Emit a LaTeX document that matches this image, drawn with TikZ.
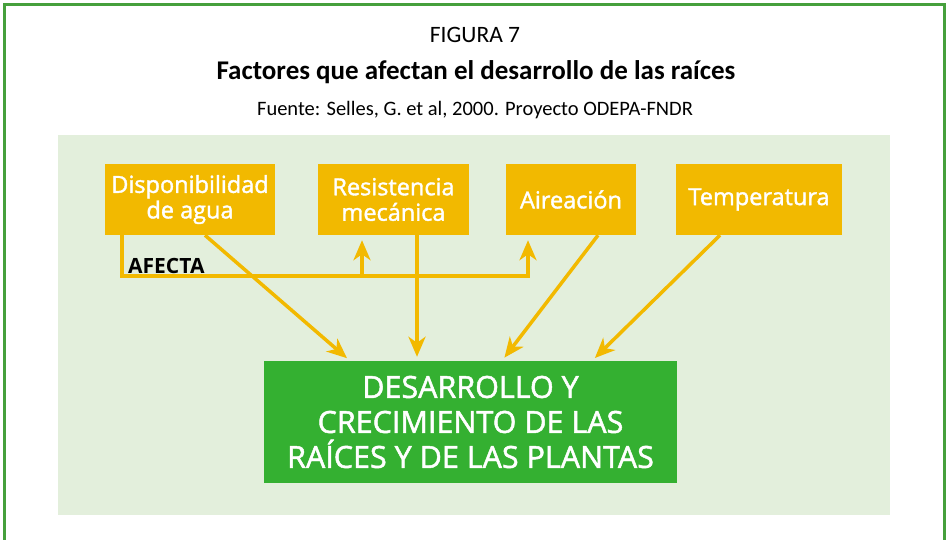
\documentclass[tikz,border=0pt]{standalone}
\usepackage{fontspec}
\setmainfont{Carlito}
\newfontfamily\cajafont[FakeBold=1.6]{Open Sans}
\newfontfamily\negritafont{Open Sans}
\usetikzlibrary{arrows.meta}
\definecolor{marco}{RGB}{70,160,60}
\definecolor{fondo}{RGB}{227,239,220}
\definecolor{naranja}{RGB}{242,185,0}
\definecolor{verde}{RGB}{52,176,49}

\begin{document}
\begin{tikzpicture}[x=1pt, y=-1pt,
    factor/.style={fill=naranja, text=white, font=\cajafont\fontsize{23.5}{25.5}\selectfont,
        align=center, minimum height=71pt, inner sep=0pt},
    resultado/.style={fill=verde, text=white, font=\cajafont\fontsize{30.5}{35}\selectfont,
        align=center, minimum width=413pt, minimum height=122pt, inner sep=0pt},
    flecha/.style={draw=naranja, line width=3.5pt, shorten >=4pt,
        -{Stealth[length=20pt, width=17pt, inset=6pt]}}]
    \useasboundingbox (0,0) rectangle (949,539);
    \draw[marco, line width=3pt] (4.5,560) -- (4.5,4.5) -- (944.5,4.5) -- (944.5,560);
    \fill[fondo] (58,135) rectangle (890,515);

    \node (figura) at (475,35) {\fontsize{23.5}{27}\selectfont FIGURA 7};
    \node (titulo) at (476,72) {\fontsize{27}{30}\selectfont\bfseries Factores que afectan el desarrollo de las raíces};
    \node (fuente) at (475,110) {\fontsize{20.5}{24}\selectfont Fuente: Selles, G. et al, 2000. Proyecto ODEPA-FNDR};

    \node[factor, minimum width=170pt] (agua) at (190,199.5) {Disponibilidad\\de agua};
    \node[factor, minimum width=151pt] (resist) at (393.5,199.5) {Resistencia\\mecánica};
    \node[factor, minimum width=130pt] (aire) at (571,199.5) {Aireación};
    \node[factor, minimum width=166pt] (temp) at (759,199.5) {Temperatura};
    \node[resultado] (planta) at (470.5,422) {DESARROLLO Y\\CRECIMIENTO DE LAS\\RAÍCES Y DE LAS PLANTAS};

    \draw[flecha] ([xshift=15pt]agua.south) -- ([xshift=-120.5pt]planta.north);
    \draw[flecha] ([xshift=23.5pt]resist.south) -- ([xshift=-53.5pt]planta.north);
    \draw[flecha] ([xshift=27pt]aire.south) -- ([xshift=31.5pt]planta.north);
    \draw[flecha] ([xshift=-39pt]temp.south) -- ([xshift=121.5pt]planta.north);

    \coordinate (linea) at (0,276);
    \draw[flecha, shorten >=5pt] ([xshift=-68pt]agua.south) |- ([xshift=-43pt]aire.south |- linea) -- ([xshift=-43pt]aire.south);
    \draw[flecha, shorten >=5pt] ([xshift=-31.5pt]resist.south |- linea) -- ([xshift=-31.5pt]resist.south);
    \node[anchor=south west, inner sep=0pt, font=\negritafont\fontsize{21}{24}\selectfont\bfseries] (afecta) at (128,274) {AFECTA};
\end{tikzpicture}
\end{document}
